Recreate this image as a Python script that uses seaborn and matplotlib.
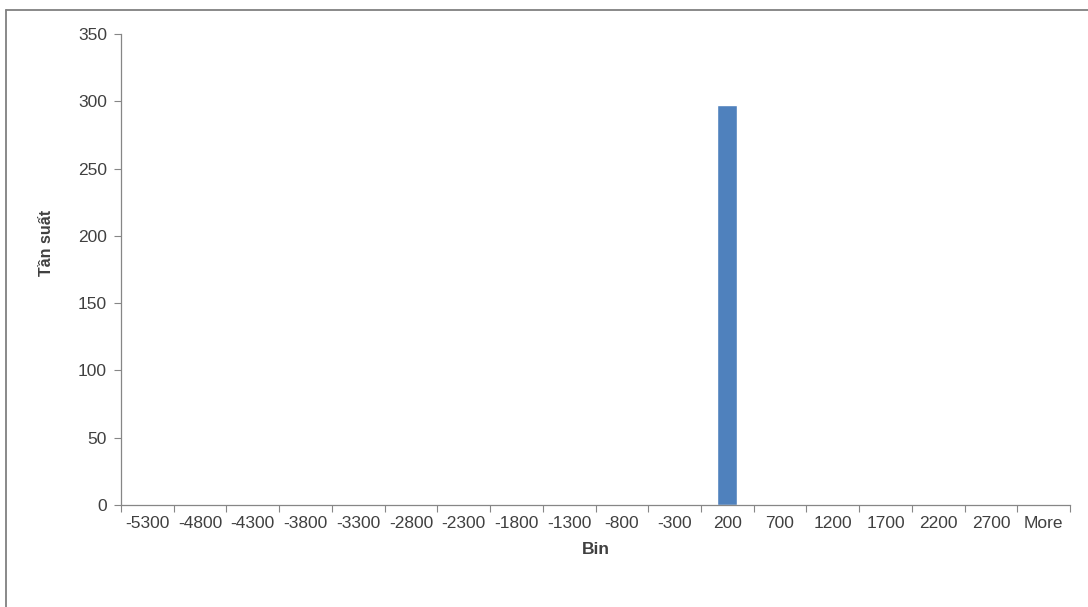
import matplotlib
matplotlib.use("Agg")
import matplotlib.pyplot as plt
import seaborn as sns
import pandas as pd
import numpy as np
from matplotlib.lines import Line2D

bins = ["-5300", "-4800", "-4300", "-3800", "-3300", "-2800", "-2300", "-1800",
        "-1300", "-800", "-300", "200", "700", "1200", "1700", "2200", "2700", "More"]
freq = [1, 0, 0, 0, 0, 0, 0, 0, 0, 0, 1, 297, 1, 1, 1, 1, 1, 1]
y_ticks = [0, 50, 100, 150, 200, 250, 300, 350]

sns.set_theme(style="white")
plt.rcParams['font.family'] = ['Liberation Sans', 'DejaVu Sans']

df = pd.DataFrame({"Bin": bins, "Tần suất": freq})

fig = plt.figure(figsize=(10.88, 6.07), dpi=100)
ax = fig.add_axes([121/1088, 1 - 505/607, (1070-121)/1088, (505-34)/607])
sns.barplot(data=df, x="Bin", y="Tần suất", color="#4F81BD", saturation=1,
            width=0.38, ax=ax, order=bins)

fs = 12.5
ax.set_ylim(0, 350)
ax.set_yticks(y_ticks)
ax.set_xlim(-0.5, len(bins) - 0.5)
ax.tick_params(axis='y', length=5, width=0.8, color='#868686', labelsize=fs,
               labelcolor='#404040', left=True, direction='out', pad=5)
ax.tick_params(axis='x', which='major', length=0, labelsize=fs, labelcolor='#404040', pad=8)
ax.set_xticks(np.arange(-0.5, len(bins) + 0.5, 1), minor=True)
ax.tick_params(axis='x', which='minor', length=5, width=0.8, color='#868686', bottom=True,
               direction='out')
for s in ['top', 'right']:
    ax.spines[s].set_visible(False)
for s in ['left', 'bottom']:
    ax.spines[s].set_color('#868686')
    ax.spines[s].set_linewidth(0.9)
ax.set_xlabel("Bin", fontsize=fs, fontweight='bold', color='#404040', labelpad=8)
ax.set_ylabel("Tần suất", fontsize=11.5, fontweight='bold', color='#404040')
ax.yaxis.set_label_coords(-67/949, (505-243)/471)
ax.grid(False)

fig.lines.append(Line2D([6/1088, 6/1088], [0, 1 - 10/607], transform=fig.transFigure,
                        color='#808080', linewidth=1.3))
fig.lines.append(Line2D([6/1088, 1], [1 - 10/607, 1 - 10/607], transform=fig.transFigure,
                        color='#808080', linewidth=1.3))
fig.savefig("out.png", dpi=100)
